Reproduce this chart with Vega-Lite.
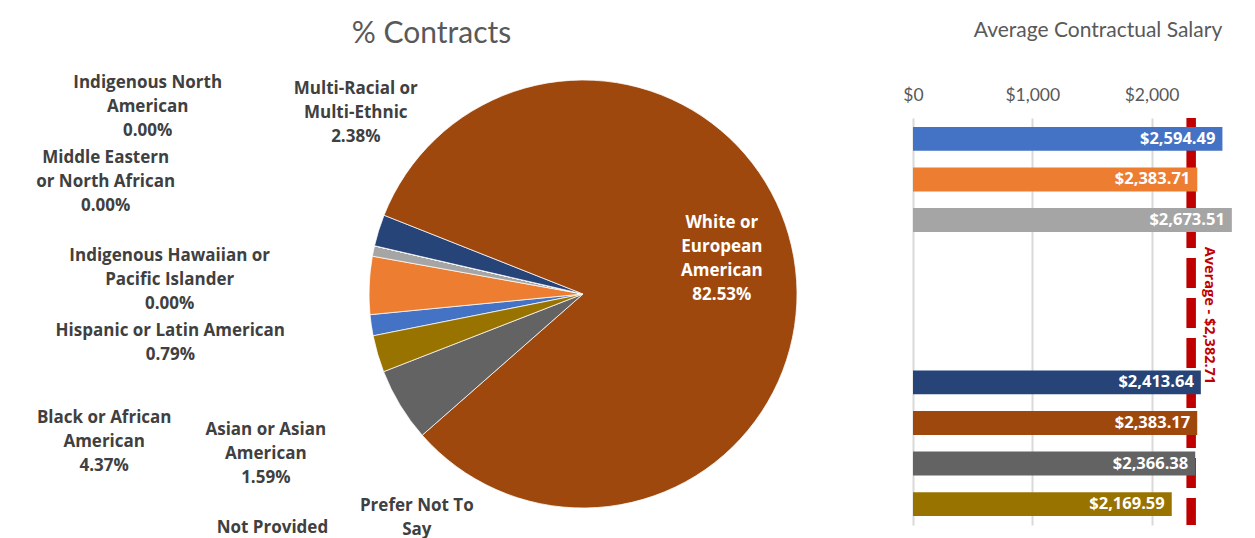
{
  "$schema": "https://vega.github.io/schema/vega-lite/v6.json",
  "padding": {"left": 0, "top": 18, "right": 0, "bottom": 0},
  "spacing": 0,
  "bounds": "flush",
  "config": {
    "view": {"stroke": null},
    "font": "Lato",
    "text": {"font": "Open Sans", "fontSize": 17, "fontWeight": "bold", "color": "#404040", "lineBreak": "|", "lineHeight": 24, "align": "center", "baseline": "middle"},
    "axis": {"labelFont": "Lato", "labelFontSize": 17.5, "labelColor": "#595959", "gridColor": "#D9D9D9", "gridWidth": 2, "ticks": false, "domain": false, "labelPadding": 14, "labelFlush": false},
    "title": {"font": "Lato", "fontWeight": "normal", "color": "#595959"}
  },
  "datasets": {
    "groups": [
      {"category": "Asian or Asian American", "label": "Asian or Asian|American", "n": 1, "share": 1.59, "salary": 2594.49},
      {"category": "Black or African American", "label": "Black or African|American", "n": 2, "share": 4.37, "salary": 2383.71},
      {"category": "Hispanic or Latin American", "label": "Hispanic or Latin American", "n": 3, "share": 0.79, "salary": 2673.51},
      {"category": "Indigenous Hawaiian or Pacific Islander", "label": "Indigenous Hawaiian or|Pacific Islander", "n": 4, "share": 0, "salary": null},
      {"category": "Indigenous North American", "label": "Indigenous North|American", "n": 5, "share": 0, "salary": null},
      {"category": "Middle Eastern or North African", "label": "Middle Eastern|or North African", "n": 6, "share": 0, "salary": null},
      {"category": "Multi-Racial or Multi-Ethnic", "label": "Multi-Racial or|Multi-Ethnic", "n": 7, "share": 2.38, "salary": 2413.64},
      {"category": "White or European American", "label": "White or|European|American", "n": 8, "share": 82.53, "salary": 2383.17},
      {"category": "Prefer Not To Say", "label": "Prefer Not To|Say", "n": 9, "share": 5.56, "salary": 2366.38},
      {"category": "Not Provided", "label": "Not Provided", "n": 10, "share": 2.78, "salary": 2169.59}
    ],
    "avg": [{"label": "Average", "value": 2382.71}]
  },
  "hconcat": [
    {
      "width": 253, "height": 352,
      "data": {"name": "avg"},
      "mark": {"type": "text"},
      "encoding": {"text": {"value": ""}}
    },
    {
      "width": 660, "height": 352,
      "title": {"text": "% Contracts", "fontSize": 30, "anchor": "middle", "dx": -151.5, "offset": 7},
      "data": {"name": "groups"},
      "transform": [{"calculate": "datum.label + '|' + format(datum.share, '.2f') + '%'", "as": "lab"}],
      "encoding": {
        "theta": {"field": "share", "type": "quantitative", "stack": true, "scale": {"domain": [0, 100], "range": [4.5157, 10.7989]}},
        "order": {"field": "n", "type": "quantitative"}
      },
      "layer": [
        {
          "mark": {"type": "arc", "outerRadius": 214, "stroke": "#ffffff", "strokeWidth": 0.75},
          "encoding": {
            "color": {"field": "category", "type": "nominal", "legend": null,
              "scale": {
                "domain": ["Asian or Asian American", "Black or African American", "Hispanic or Latin American", "Indigenous Hawaiian or Pacific Islander", "Indigenous North American", "Middle Eastern or North African", "Multi-Racial or Multi-Ethnic", "White or European American", "Prefer Not To Say", "Not Provided"],
                "range": ["#4472C4", "#ED7D31", "#A5A5A5", "#FFC000", "#5B9BD5", "#70AD47", "#264478", "#9E480E", "#636363", "#997300"]
              }}
          }
        },
        {"mark": {"type": "text", "radius": 260, "dx": -60, "dy": 98}, "encoding": {"text": {"condition": {"test": "datum.n == 1", "field": "lab"}, "value": ""}}},
        {"mark": {"type": "text", "radius": 260, "dx": -219, "dy": 135}, "encoding": {"text": {"condition": {"test": "datum.n == 2", "field": "lab"}, "value": ""}}},
        {"mark": {"type": "text", "radius": 260, "dx": -158, "dy": 89}, "encoding": {"text": {"condition": {"test": "datum.n == 3", "field": "lab"}, "value": ""}}},
        {"mark": {"type": "text", "radius": 260, "dx": -160, "dy": 21}, "encoding": {"text": {"condition": {"test": "datum.n == 4", "field": "lab"}, "value": ""}}},
        {"mark": {"type": "text", "radius": 260, "dx": -182, "dy": -152}, "encoding": {"text": {"condition": {"test": "datum.n == 5", "field": "lab"}, "value": ""}}},
        {"mark": {"type": "text", "radius": 260, "dx": -224, "dy": -77}, "encoding": {"text": {"condition": {"test": "datum.n == 6", "field": "lab"}, "value": ""}}},
        {"mark": {"type": "text", "radius": 260, "dx": 21, "dy": -128}, "encoding": {"text": {"condition": {"test": "datum.n == 7", "field": "lab"}, "value": ""}}},
        {"mark": {"type": "text", "radius": 145, "dx": -4, "dy": -46, "color": "#ffffff"}, "encoding": {"text": {"condition": {"test": "datum.n == 8", "field": "lab"}, "value": ""}}},
        {"mark": {"type": "text", "radius": 260, "dx": 56, "dy": 77}, "encoding": {"text": {"condition": {"test": "datum.n == 9", "field": "lab"}, "value": ""}}},
        {"mark": {"type": "text", "radius": 260, "dx": -61, "dy": 161}, "encoding": {"text": {"condition": {"test": "datum.n == 10", "field": "lab"}, "value": ""}}}
      ]
    },
    {
      "width": 322, "height": 407,
      "title": {"text": "Average Contractual Salary", "fontSize": 21, "anchor": "middle", "dx": 24, "offset": 45},
      "layer": [
        {
          "data": {"name": "avg"},
          "mark": {"type": "rule", "color": "#C00000", "strokeWidth": 9.5, "strokeDash": [30, 10], "strokeDashOffset": 20, "xOffset": -6},
          "encoding": {"x": {"field": "value", "type": "quantitative"}}
        },
        {
          "data": {"name": "groups"},
          "mark": {"type": "bar"},
          "encoding": {
            "y": {"field": "category", "type": "nominal", "axis": null,
              "scale": {"domain": ["Asian or Asian American", "Black or African American", "Hispanic or Latin American", "Indigenous Hawaiian or Pacific Islander", "Indigenous North American", "Middle Eastern or North African", "Multi-Racial or Multi-Ethnic", "White or European American", "Prefer Not To Say", "Not Provided"], "paddingInner": 0.41, "paddingOuter": 0.22}},
            "x": {"field": "salary", "type": "quantitative", "title": null,
              "scale": {"domain": [0, 2700], "nice": false},
              "axis": {"orient": "top", "values": [0, 1000, 2000], "format": "$,.0f", "grid": true}},
            "color": {"field": "category", "type": "nominal", "legend": null,
              "scale": {
                "domain": ["Asian or Asian American", "Black or African American", "Hispanic or Latin American", "Indigenous Hawaiian or Pacific Islander", "Indigenous North American", "Middle Eastern or North African", "Multi-Racial or Multi-Ethnic", "White or European American", "Prefer Not To Say", "Not Provided"],
                "range": ["#4472C4", "#ED7D31", "#A5A5A5", "#FFC000", "#5B9BD5", "#70AD47", "#264478", "#9E480E", "#636363", "#997300"]
              }}
          }
        },
        {
          "data": {"name": "groups"},
          "mark": {"type": "text", "align": "right", "dx": -7, "color": "#ffffff", "fontSize": 16.5, "fontWeight": "bold"},
          "encoding": {
            "y": {"field": "category", "type": "nominal"},
            "x": {"field": "salary", "type": "quantitative"},
            "text": {"field": "salary", "type": "quantitative", "format": "$,.2f"}
          }
        },
        {
          "data": {"name": "avg"},
          "transform": [{"calculate": "datum.label + ' - ' + format(datum.value, '$,.2f')", "as": "lab"}],
          "mark": {"type": "text", "angle": 90, "color": "#C00000", "fontSize": 14.5, "fontWeight": "bold", "xOffset": 12, "yOffset": -6},
          "encoding": {
            "x": {"field": "value", "type": "quantitative"},
            "text": {"field": "lab", "type": "nominal"}
          }
        }
      ]
    }
  ]
}
